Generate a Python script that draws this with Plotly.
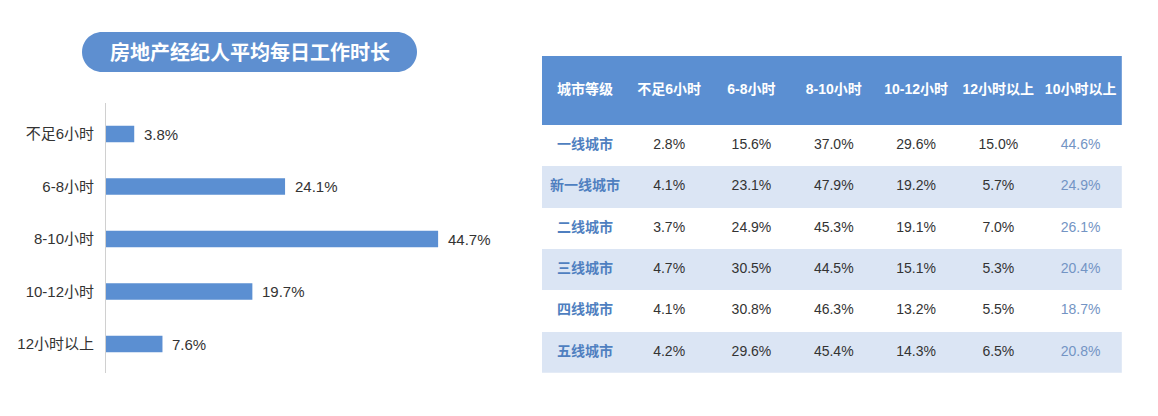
import plotly.graph_objects as go

W, H = 1158, 416
OFF = 8  # page body margin offset

# Left bar chart data
title_text = "房地产经纪人平均每日工作时长"
bar_categories = ["不足6小时", "6-8小时", "8-10小时", "10-12小时", "12小时以上"]
bar_values = [3.8, 24.1, 44.7, 19.7, 7.6]

# Right table data
table_header = ["城市等级", "不足6小时", "6-8小时", "8-10小时", "10-12小时", "12小时以上", "10小时以上"]
cities = ["一线城市", "新一线城市", "二线城市", "三线城市", "四线城市", "五线城市"]
lt6 = ["2.8%", "4.1%", "3.7%", "4.7%", "4.1%", "4.2%"]
h6_8 = ["15.6%", "23.1%", "24.9%", "30.5%", "30.8%", "29.6%"]
h8_10 = ["37.0%", "47.9%", "45.3%", "44.5%", "46.3%", "45.4%"]
h10_12 = ["29.6%", "19.2%", "19.1%", "15.1%", "13.2%", "14.3%"]
gt12 = ["15.0%", "5.7%", "7.0%", "5.3%", "5.5%", "6.5%"]
gt10 = ["44.6%", "24.9%", "26.1%", "20.4%", "18.7%", "20.8%"]

FONT = "Liberation Sans, Noto Sans CJK SC, sans-serif"
CJK = "Noto Sans CJK SC, sans-serif"
BLUE = "#5b8fd2"
HEADER_BLUE = "#5b8fd2"
ROW_BLUE = "#dbe5f4"


def px(x):
    return (x - OFF) / W


def py(y):
    return 1 - (y - OFF) / H


fig = go.Figure()

# ---------------- Bar chart ----------------
fig.add_trace(go.Bar(
    x=bar_values, y=bar_categories, orientation="h",
    marker=dict(color=BLUE, line=dict(width=0)),
    width=0.31, showlegend=False, hoverinfo="skip",
    xaxis="x", yaxis="y",
))
for c, v in zip(bar_categories, bar_values):
    fig.add_annotation(
        x=v, y=c, xref="x", yref="y", text=f"{v:.1f}%", showarrow=False,
        xanchor="left", yanchor="middle", xshift=8,
        font=dict(family=FONT, size=15, color="#333333"),
    )

# ---------------- Table (heatmap fills + text) ----------------
col_widths = [86, 82.3, 82.3, 82.3, 82.3, 82.3, 82.3]
header_h, row_h = 69, 41.3
x_edges = [0]
for w in col_widths:
    x_edges.append(x_edges[-1] + w)
y_edges = [0, header_h] + [header_h + row_h * (i + 1) for i in range(len(cities))]
x_centers = [(x_edges[i] + x_edges[i + 1]) / 2 for i in range(len(col_widths))]
y_centers = [(y_edges[i] + y_edges[i + 1]) / 2 for i in range(len(y_edges) - 1)]

z = [[2] * len(col_widths)] + [[i % 2] * len(col_widths) for i in range(len(cities))]
fig.add_trace(go.Heatmap(
    x=x_edges, y=y_edges, z=z, zmin=0, zmax=2, showscale=False, hoverinfo="skip",
    colorscale=[[0, "white"], [0.333, "white"], [0.333, ROW_BLUE], [0.667, ROW_BLUE],
                [0.667, HEADER_BLUE], [1, HEADER_BLUE]],
    xaxis="x2", yaxis="y2",
))

# header text
fig.add_trace(go.Scatter(
    x=x_centers, y=[y_centers[0]] * len(table_header), text=table_header, mode="text",
    textposition="middle center",
    textfont=dict(family=FONT, size=14, color="white", weight="bold"),
    showlegend=False, hoverinfo="skip", xaxis="x2", yaxis="y2",
))
body_cols = [cities, lt6, h6_8, h8_10, h10_12, gt12, gt10]
col_colors = ["#4f7fc0", "#333333", "#333333", "#333333", "#333333", "#333333", "#7394c4"]
for ci, (vals, colr) in enumerate(zip(body_cols, col_colors)):
    fig.add_trace(go.Scatter(
        x=[x_centers[ci]] * len(vals), y=y_centers[1:], text=vals, mode="text",
        textposition="middle center",
        textfont=dict(family=FONT, size=14, color=colr,
                      weight="bold" if ci == 0 else "normal"),
        showlegend=False, hoverinfo="skip", xaxis="x2", yaxis="y2",
    ))

# ---------------- Title pill ----------------
x0, x1, y0p, y1p = 82, 417, 32, 72
r = (y1p - y0p) / 2
k = 0.5523 * r
path = (
    f"M {px(x0 + r)} {py(y0p)} L {px(x1 - r)} {py(y0p)} "
    f"C {px(x1 - r + k)} {py(y0p)} {px(x1)} {py(y0p + r - k)} {px(x1)} {py(y0p + r)} "
    f"C {px(x1)} {py(y0p + r + k)} {px(x1 - r + k)} {py(y1p)} {px(x1 - r)} {py(y1p)} "
    f"L {px(x0 + r)} {py(y1p)} "
    f"C {px(x0 + r - k)} {py(y1p)} {px(x0)} {py(y1p - r + k)} {px(x0)} {py(y0p + r)} "
    f"C {px(x0)} {py(y0p + r - k)} {px(x0 + r - k)} {py(y0p)} {px(x0 + r)} {py(y0p)} Z"
)
fig.add_shape(type="path", xref="paper", yref="paper", path=path,
              fillcolor="#5e8fd0", line=dict(width=0), layer="below")
fig.add_annotation(
    x=px((x0 + x1) / 2), y=py((y0p + y1p) / 2), xref="paper", yref="paper",
    text=title_text, showarrow=False, xanchor="center", yanchor="middle",
    font=dict(family=CJK, size=20, color="white", weight="bold"),
)

# ---------------- Layout ----------------
px_per_unit = 7.43
x_left, x_right = 106, 500
bar_top, bar_step = 134, 52.5
r_lo, r_hi = -0.6, 4.55
y_top = bar_top + r_lo * bar_step
y_bot = bar_top + r_hi * bar_step

tbl_left, tbl_top = 542, 56
fig.update_layout(
    width=W, height=H, margin=dict(l=0, r=0, t=0, b=0),
    paper_bgcolor="white", plot_bgcolor="rgba(0,0,0,0)",
    xaxis=dict(domain=[px(x_left), px(x_right)], range=[0, (x_right - x_left) / px_per_unit],
               visible=False, fixedrange=True),
    yaxis=dict(domain=[py(y_bot), py(y_top)], range=[r_hi, r_lo],
               showline=True, linecolor="#d0d0d0", linewidth=1, ticks="",
               showgrid=False, zeroline=False, ticklabelstandoff=8,
               tickfont=dict(family=FONT, size=15, color="#333333"), fixedrange=True),
    xaxis2=dict(domain=[px(tbl_left), px(tbl_left + x_edges[-1])], range=[0, x_edges[-1]],
                visible=False, fixedrange=True, anchor="y2"),
    yaxis2=dict(domain=[py(tbl_top + y_edges[-1]), py(tbl_top)], range=[y_edges[-1], 0],
                visible=False, fixedrange=True, anchor="x2"),
    font=dict(family=FONT),
)

fig.write_html("out.html")
